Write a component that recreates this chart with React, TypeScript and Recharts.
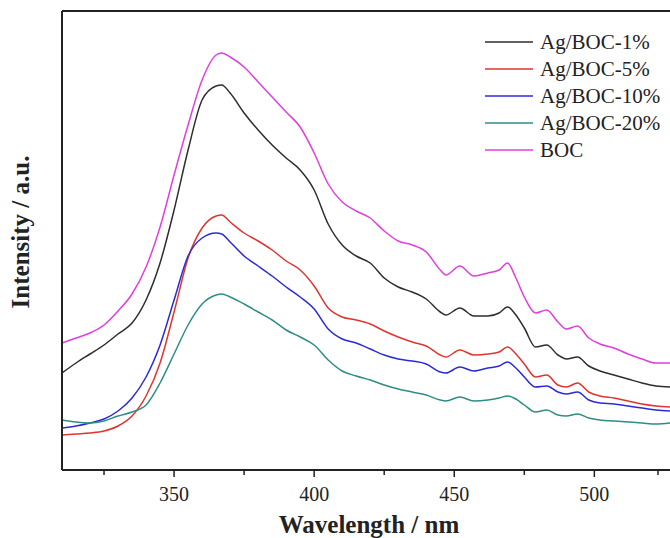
import React from "react"
import { LineChart, Line, XAxis, YAxis, ReferenceLine, Legend, Label } from "recharts"

// wavelength (nm)
const WAVELENGTH = [
  310, 315, 320, 325, 330, 335, 340, 345, 350, 355,
  360, 365, 367, 370, 375, 380, 385, 390, 395, 400,
  405, 410, 415, 420, 425, 430, 435, 440, 445, 447,
  452, 457, 462, 466, 469, 472, 475, 479, 483, 487,
  490, 494, 498, 502, 507, 512, 517, 522, 527,
]

// PL intensity (a.u.)
const AG_BOC_1 = [
  97, 107, 116, 125, 136, 147, 170, 207, 260, 320,
  370, 384, 385, 377, 357, 340, 325, 312, 300, 280,
  246, 225, 214, 207, 192, 183, 178, 171, 158, 155,
  162, 154, 154, 157, 163, 155, 142, 123, 125, 115,
  111, 113, 104, 99, 95, 91, 87, 84, 83,
]
const AG_BOC_5 = [
  35, 36, 37, 39, 44, 54, 74, 107, 158, 212,
  242, 254, 255, 248, 237, 229, 220, 209, 200, 184,
  162, 153, 150, 146, 139, 133, 128, 124, 115, 113,
  120, 115, 116, 118, 123, 116, 106, 93, 95, 85,
  83, 87, 78, 74, 72, 69, 66, 64, 63,
]
const AG_BOC_10 = [
  42, 44, 47, 51, 59, 72, 93, 125, 170, 214,
  232, 237, 236, 228, 214, 204, 194, 183, 173, 161,
  141, 131, 127, 121, 115, 111, 109, 106, 98, 97,
  103, 99, 102, 104, 108, 102, 93, 83, 84, 78,
  76, 78, 70, 67, 66, 64, 62, 60, 59,
]
const AG_BOC_20 = [
  50, 48, 47, 49, 54, 58, 65, 87, 116, 145,
  166, 175, 176, 173, 166, 158, 150, 140, 133, 125,
  110, 99, 94, 90, 85, 81, 78, 75, 70, 69,
  73, 69, 70, 72, 74, 71, 65, 58, 60, 55,
  54, 56, 52, 50, 49, 48, 47, 46, 47,
]
const BOC = [
  127, 132, 137, 145, 159, 176, 203, 243, 295, 345,
  390, 415, 417, 413, 403, 388, 373, 358, 343, 317,
  286, 268, 259, 252, 239, 229, 225, 218, 200, 195,
  204, 194, 197, 200, 207, 192, 173, 157, 160, 148,
  141, 144, 132, 126, 122, 116, 111, 107, 107,
]

const X_TICKS = [325, 350, 375, 400, 425, 450, 475, 500, 525]

const SERIES = [
  { key: "b1", name: "Ag/BOC-1%", color: "#2e2e2e" },
  { key: "b5", name: "Ag/BOC-5%", color: "#e0352f" },
  { key: "b10", name: "Ag/BOC-10%", color: "#2b2bd6" },
  { key: "b20", name: "Ag/BOC-20%", color: "#2f8c87" },
  { key: "boc", name: "BOC", color: "#e03fe0" },
]

const data = WAVELENGTH.map((w, i) => ({
  w,
  b1: AG_BOC_1[i],
  b5: AG_BOC_5[i],
  b10: AG_BOC_10[i],
  b20: AG_BOC_20[i],
  boc: BOC[i],
}))

const FONT = '"Liberation Serif", "Times New Roman", serif'
const INK = "#222"

const XTick = (props: any) => {
  const { x, y, payload } = props
  const major = payload.value % 50 === 0
  return (
    <g>
      <line x1={x} x2={x} y1={y} y2={y + (major ? 7 : 5)} stroke={INK} strokeWidth={1.5} />
      {major && (
        <text x={x} y={y + 31} textAnchor="middle" fontFamily={FONT} fontSize={20} fill={INK}>
          {payload.value}
        </text>
      )}
    </g>
  )
}

const LegendBox = () => (
  <div style={{ fontFamily: FONT, fontSize: 21, color: INK }}>
    {SERIES.map((s) => (
      <div key={s.key} style={{ display: "flex", alignItems: "center", height: 27 }}>
        <svg width={48} height={4} style={{ marginRight: 7 }}>
          <line x1={0} x2={48} y1={2} y2={2} stroke={s.color} strokeWidth={1.5} />
        </svg>
        <span style={{ lineHeight: "27px", position: "relative", top: 1 }}>{s.name}</span>
      </div>
    ))}
  </div>
)

export default function App() {
  return (
    <div style={{ position: "absolute", left: 0, top: 0, width: 670, height: 538, background: "#fff" }}>
      <LineChart width={670} height={538} data={data} margin={{ top: 11, right: 0, left: 0, bottom: 0 }}>
        <XAxis
          dataKey="w"
          type="number"
          domain={[310, 527]}
          ticks={X_TICKS}
          allowDataOverflow
          height={68}
          tickLine={false}
          tickSize={0}
          tickMargin={0}
          tick={<XTick />}
          axisLine={{ stroke: INK, strokeWidth: 2 }}
          label={
            <Label
              content={() => (
                <text x={369} y={533} textAnchor="middle" fontFamily={FONT} fontSize={25} fontWeight="bold" fill={INK}>
                  Wavelength / nm
                </text>
              )}
            />
          }
        />
        <YAxis
          type="number"
          domain={[0, 459]}
          width={62}
          tick={false}
          tickLine={false}
          axisLine={{ stroke: INK, strokeWidth: 2 }}
          label={
            <Label
              content={() => (
                <text
                  x={29}
                  y={232}
                  transform="rotate(-90 29 232)"
                  textAnchor="middle"
                  fontFamily={FONT}
                  fontSize={25}
                  fontWeight="bold"
                  fill={INK}
                >
                  Intensity / a.u.
                </text>
              )}
            />
          }
        />
        <ReferenceLine y={459} stroke={INK} strokeWidth={2} />
        <Legend
          verticalAlign="middle"
          align="center"
          layout="horizontal"
          content={<LegendBox />}
          wrapperStyle={{ left: 485, top: 28, width: 185, height: 135 }}
        />
        {SERIES.map((s) => (
          <Line
            key={s.key}
            dataKey={s.key}
            name={s.name}
            type="monotone"
            stroke={s.color}
            strokeWidth={1.5}
            dot={false}
            isAnimationActive={false}
          />
        ))}
      </LineChart>
    </div>
  )
}
